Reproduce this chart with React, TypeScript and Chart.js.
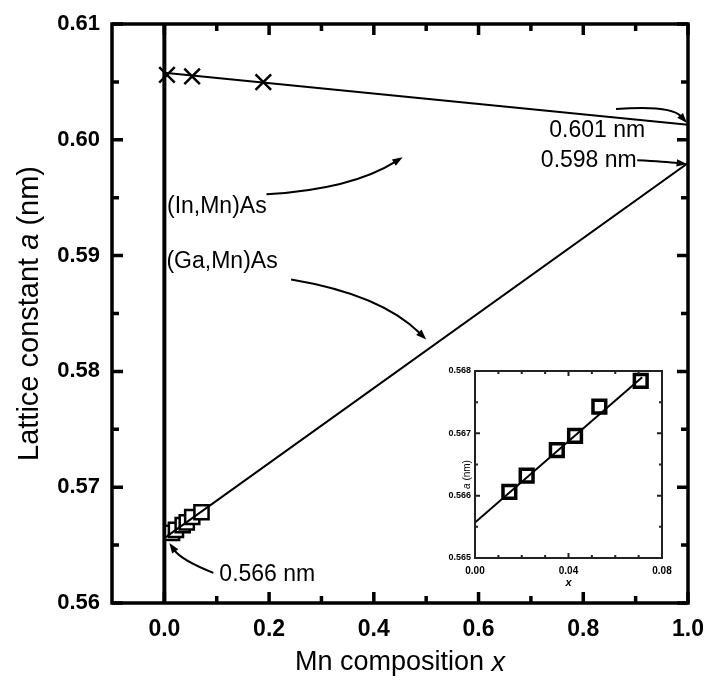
import React, { useEffect, useRef } from "react";
import { Chart, registerables } from "chart.js";

Chart.register(...registerables);

// ---------- data ----------
const inMnX = [0.005, 0.053, 0.189];
const inMnA = [0.6056, 0.60548, 0.60498];
const inMnLineX = [0, 1];
const inMnLineA = [0.6058, 0.6013];

const gaMnX = [0.0147, 0.0221, 0.035, 0.0428, 0.0532, 0.0709];
const gaMnA = [0.56606, 0.56632, 0.56673, 0.56696, 0.56743, 0.56784];
const gaMnLineX = [0, 1];
const gaMnLineA = [0.5656, 0.598];

const insetLineX = [0, 0.0715];
const insetLineA = [0.56557, 0.5679];

const xTicks = [0, 0.2, 0.4, 0.6, 0.8, 1.0];
const xMinorTicks = [0.1, 0.3, 0.5, 0.7, 0.9];
const yTicks = [0.56, 0.57, 0.58, 0.59, 0.6, 0.61];
const yMinorTicks = [0.565, 0.575, 0.585, 0.595, 0.605];

const insetXTicks = [0, 0.04, 0.08];
const insetXMinor = [0.01, 0.02, 0.03, 0.05, 0.06, 0.07];
const insetYTicks = [0.565, 0.566, 0.567, 0.568];
const insetYMinor = [0.5655, 0.5665, 0.5675];

const FONT = "'Liberation Sans', Arial, Helvetica, sans-serif";

// annotation texts (data coordinates)
const labelTexts = ["0.601 nm", "0.598 nm", "(In,Mn)As", "(Ga,Mn)As", "0.566 nm"];
const labelX = [0.735, 0.719, 0.005, 0.004, 0.105];
const labelY = [0.60083, 0.59824, 0.59426, 0.5895, 0.56242];
// arrows: start, control, end
const arrowSX = [0.8626, 0.903, 0.195, 0.242, 0.0935];
const arrowSY = [0.60265, 0.59824, 0.59529, 0.58794, 0.5626];
const arrowCX = [0.9676, 0.958, 0.357, 0.414, 0.032];
const arrowCY = [0.603, 0.59812, 0.59573, 0.58664, 0.56372];
const arrowEX = [0.998, 0.998, 0.455, 0.5, 0.0095];
const arrowEY = [0.60144, 0.5979, 0.5985, 0.58275, 0.56519];

const pts = (xs: number[], ys: number[]) => xs.map((x, i) => ({ x, y: ys[i] }));

function drawMixed(ctx: CanvasRenderingContext2D, parts: [string, string][], cx: number, cy: number) {
  const widths = parts.map(([t, f]) => {
    ctx.font = f;
    return ctx.measureText(t).width;
  });
  const total = widths.reduce((a, b) => a + b, 0);
  let x = cx - total / 2;
  ctx.textBaseline = "middle";
  ctx.textAlign = "left";
  parts.forEach(([t, f], i) => {
    ctx.font = f;
    ctx.fillText(t, x, cy);
    x += widths[i];
  });
}

function drawFrameTicks(
  chart: any,
  lw: number,
  major: number,
  minor: number,
  xMaj: number[],
  xMin: number[],
  yMaj: number[],
  yMin: number[],
  color: string
) {
  const { ctx, chartArea: a, scales } = chart;
  const sx = scales.x;
  const sy = scales.y;
  ctx.save();
  ctx.strokeStyle = color;
  ctx.lineWidth = lw;
  ctx.lineCap = "butt";
  const tick = (vals: number[], len: number) => {
    vals.forEach((v) => {
      const px = sx.getPixelForValue(v);
      ctx.beginPath();
      ctx.moveTo(px, a.bottom);
      ctx.lineTo(px, a.bottom - len);
      ctx.moveTo(px, a.top);
      ctx.lineTo(px, a.top + len);
      ctx.stroke();
    });
  };
  const tickY = (vals: number[], len: number) => {
    vals.forEach((v) => {
      const py = sy.getPixelForValue(v);
      ctx.beginPath();
      ctx.moveTo(a.left, py);
      ctx.lineTo(a.left + len, py);
      ctx.moveTo(a.right, py);
      ctx.lineTo(a.right - len, py);
      ctx.stroke();
    });
  };
  tick(xMaj, major);
  tick(xMin, minor);
  tickY(yMaj, major);
  tickY(yMin, minor);
  ctx.beginPath();
  ctx.rect(a.left, a.top, a.right - a.left, a.bottom - a.top);
  ctx.stroke();
  ctx.restore();
}

const mainPlugin = {
  id: "mainDecor",
  beforeDatasetsDraw(chart: any) {
    const { ctx, chartArea: a, scales } = chart;
    const x0 = scales.x.getPixelForValue(0);
    ctx.save();
    ctx.strokeStyle = "#000";
    ctx.lineWidth = 4;
    ctx.beginPath();
    ctx.moveTo(x0, a.top);
    ctx.lineTo(x0, a.bottom);
    ctx.stroke();
    ctx.restore();
  },
  afterDraw(chart: any) {
    const { ctx, chartArea: a, scales } = chart;
    const sx = scales.x;
    const sy = scales.y;
    drawFrameTicks(chart, 3.5, 11, 7, xTicks, xMinorTicks, yTicks, yMinorTicks, "#000");
    ctx.save();
    ctx.fillStyle = "#000";
    drawMixed(
      ctx,
      [
        ["Mn composition ", `27px ${FONT}`],
        ["x", `italic 27px ${FONT}`],
      ],
      (a.left + a.right) / 2,
      663
    );
    ctx.save();
    ctx.translate(30, (a.top + a.bottom) / 2);
    ctx.rotate(-Math.PI / 2);
    drawMixed(
      ctx,
      [
        ["Lattice constant ", `29px ${FONT}`],
        ["a", `italic 29px ${FONT}`],
        [" (nm)", `29px ${FONT}`],
      ],
      0,
      0
    );
    ctx.restore();
    ctx.font = `23px ${FONT}`;
    ctx.textAlign = "left";
    ctx.textBaseline = "middle";
    labelTexts.forEach((t, i) => {
      ctx.fillText(t, sx.getPixelForValue(labelX[i]), sy.getPixelForValue(labelY[i]));
    });
    ctx.strokeStyle = "#000";
    ctx.lineWidth = 2;
    arrowSX.forEach((_, i) => {
      const s = [sx.getPixelForValue(arrowSX[i]), sy.getPixelForValue(arrowSY[i])];
      const c = [sx.getPixelForValue(arrowCX[i]), sy.getPixelForValue(arrowCY[i])];
      const e = [sx.getPixelForValue(arrowEX[i]), sy.getPixelForValue(arrowEY[i])];
      const ang = Math.atan2(e[1] - c[1], e[0] - c[0]);
      const hl = 11;
      const back = [e[0] - Math.cos(ang) * hl * 0.8, e[1] - Math.sin(ang) * hl * 0.8];
      ctx.beginPath();
      ctx.moveTo(s[0], s[1]);
      ctx.quadraticCurveTo(c[0], c[1], back[0], back[1]);
      ctx.stroke();
      ctx.beginPath();
      ctx.moveTo(e[0], e[1]);
      ctx.lineTo(e[0] - hl * Math.cos(ang - 0.35), e[1] - hl * Math.sin(ang - 0.35));
      ctx.lineTo(e[0] - hl * Math.cos(ang + 0.35), e[1] - hl * Math.sin(ang + 0.35));
      ctx.closePath();
      ctx.fill();
    });
    ctx.restore();
  },
};

const insetPlugin = {
  id: "insetDecor",
  afterDraw(chart: any) {
    const { ctx, chartArea: a } = chart;
    drawFrameTicks(chart, 2, 5, 3, insetXTicks, insetXMinor, insetYTicks, insetYMinor, "#222");
    ctx.save();
    ctx.fillStyle = "#000";
    drawMixed(ctx, [["x", `italic bold 11px ${FONT}`]], (a.left + a.right) / 2, 233);
    ctx.translate(42, (a.top + a.bottom) / 2 + 10);
    ctx.rotate(-Math.PI / 2);
    drawMixed(
      ctx,
      [
        ["a", `italic 10px ${FONT}`],
        [" (nm)", `10px ${FONT}`],
      ],
      0,
      0
    );
    ctx.restore();
  },
};

const fixX = (h: number) => (s: any) => {
  s.height = h;
  s.paddingLeft = 0;
  s.paddingRight = 0;
};
const fixY = (w: number) => (s: any) => {
  s.width = w;
  s.paddingTop = 0;
  s.paddingBottom = 0;
};

export default function App() {
  const mainRef = useRef<HTMLCanvasElement>(null);
  const insetRef = useRef<HTMLCanvasElement>(null);

  useEffect(() => {
    document.body.style.margin = "0";
    const main = new Chart(mainRef.current as HTMLCanvasElement, {
      type: "scatter",
      data: {
        datasets: [
          { data: pts(inMnLineX, inMnLineA), showLine: true, borderColor: "#000", borderWidth: 2, pointRadius: 0 },
          { data: pts(gaMnLineX, gaMnLineA), showLine: true, borderColor: "#000", borderWidth: 2, pointRadius: 0 },
          { data: pts(inMnX, inMnA), pointStyle: "crossRot", pointRadius: 11, borderColor: "#000", borderWidth: 2.5 },
          {
            data: pts(gaMnX, gaMnA),
            pointStyle: "rect",
            pointRadius: 10,
            backgroundColor: "#fff",
            borderColor: "#000",
            borderWidth: 2.5,
          },
        ],
      },
      options: {
        responsive: false,
        animation: false,
        events: [],
        layout: { padding: { top: 24, right: 17, left: 0, bottom: 0 } },
        plugins: { legend: { display: false }, tooltip: { enabled: false } },
        scales: {
          x: {
            type: "linear",
            min: -0.1,
            max: 1.0,
            grid: { display: false, drawTicks: false },
            border: { display: false },
            afterBuildTicks: (s: any) => {
              s.ticks = xTicks.map((v) => ({ value: v }));
            },
            afterFit: fixX(87),
            ticks: {
              color: "#000",
              padding: 13,
              font: { family: FONT, size: 23, weight: "bold" },
              callback: (v: any) => Number(v).toFixed(1),
            },
          },
          y: {
            type: "linear",
            min: 0.56,
            max: 0.61,
            grid: { display: false, drawTicks: false },
            border: { display: false },
            afterBuildTicks: (s: any) => {
              s.ticks = yTicks.map((v) => ({ value: v }));
            },
            afterFit: fixY(112),
            ticks: {
              color: "#000",
              padding: 12,
              font: { family: FONT, size: 22, weight: "bold" },
              callback: (v: any) => Number(v).toFixed(2),
            },
          },
        },
      },
      plugins: [mainPlugin],
    } as any);

    const inset = new Chart(insetRef.current as HTMLCanvasElement, {
      type: "scatter",
      data: {
        datasets: [
          { data: pts(insetLineX, insetLineA), showLine: true, borderColor: "#000", borderWidth: 2, pointRadius: 0 },
          {
            data: pts(gaMnX, gaMnA),
            pointStyle: "rect",
            pointRadius: 9,
            backgroundColor: "#fff",
            borderColor: "#000",
            borderWidth: 3.5,
          },
        ],
      },
      options: {
        responsive: false,
        animation: false,
        events: [],
        layout: { padding: { top: 21, right: 13, left: 0, bottom: 0 } },
        plugins: { legend: { display: false }, tooltip: { enabled: false } },
        scales: {
          x: {
            type: "linear",
            min: 0,
            max: 0.08,
            grid: { display: false, drawTicks: false },
            border: { display: false },
            afterBuildTicks: (s: any) => {
              s.ticks = insetXTicks.map((v) => ({ value: v }));
            },
            afterFit: fixX(37),
            ticks: {
              color: "#000",
              padding: 7,
              maxRotation: 0,
              font: { family: FONT, size: 10, weight: "bold" },
              callback: (v: any) => Number(v).toFixed(2),
            },
          },
          y: {
            type: "linear",
            min: 0.565,
            max: 0.568,
            grid: { display: false, drawTicks: false },
            border: { display: false },
            afterBuildTicks: (s: any) => {
              s.ticks = insetYTicks.map((v) => ({ value: v }));
            },
            afterFit: fixY(50),
            ticks: {
              color: "#000",
              padding: 4,
              font: { family: FONT, size: 9, weight: "bold" },
              callback: (v: any) => Number(v).toFixed(3),
            },
          },
        },
      },
      plugins: [insetPlugin],
    } as any);

    return () => {
      main.destroy();
      inset.destroy();
    };
  }, []);

  return (
    <div style={{ position: "relative", width: 705, height: 690, background: "#fff" }}>
      <canvas
        ref={mainRef}
        width={705}
        height={690}
        style={{ position: "absolute", left: 0, top: 0, width: 705, height: 690 }}
      />
      <canvas
        ref={insetRef}
        width={250}
        height={245}
        style={{ position: "absolute", left: 425, top: 350, width: 250, height: 245 }}
      />
    </div>
  );
}
